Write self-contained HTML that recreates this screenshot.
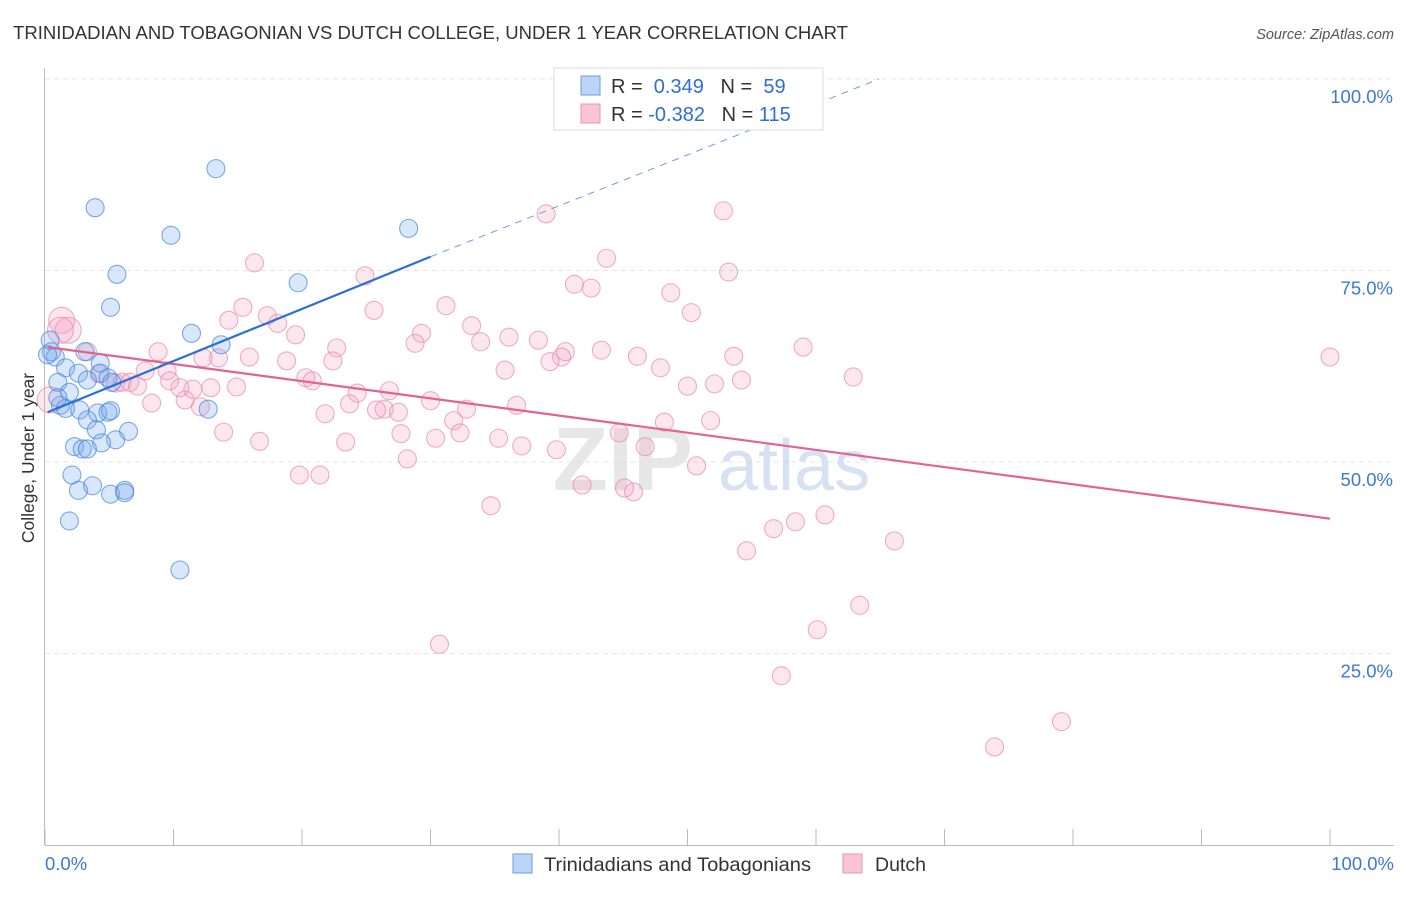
<!DOCTYPE html>
<html><head><meta charset="utf-8"><style>
body{margin:0;background:#fff;font-family:"Liberation Sans",sans-serif;}
svg text{font-family:"Liberation Sans",sans-serif;}
</style></head><body>
<svg id="chart" width="1406" height="892" xmlns="http://www.w3.org/2000/svg">
<text x="13" y="39" font-size="18.6" fill="#333" textLength="835" lengthAdjust="spacingAndGlyphs">TRINIDADIAN AND TOBAGONIAN VS DUTCH COLLEGE, UNDER 1 YEAR CORRELATION CHART</text>
<text x="1394" y="39" font-size="14.5" fill="#555" font-style="italic" text-anchor="end">Source: ZipAtlas.com</text>
<g id="grid"></g>
<g><text x="553" y="490" font-size="90" fill="#ddd" font-weight="bold" opacity="0.7">ZIP</text><text x="718" y="490" font-size="72" fill="#c5d6ee" opacity="0.7">atlas</text></g>
<g id="axes"></g>
<g id="pts"></g>
<g id="trends"></g>
<text transform="translate(34,458) rotate(-90)" font-size="17.5" fill="#333" text-anchor="middle">College, Under 1 year</text>
<g>
<rect x="554" y="68" width="269" height="62" fill="#fff" stroke="#ddd"/>
<rect x="581" y="76" width="19" height="19" fill="#bcd4f5" stroke="#6a9ee0"/>
<rect x="581" y="104" width="19" height="19" fill="#f9c5d5" stroke="#e896b0"/>
<text x="611" y="93" font-size="20" fill="#333">R = <tspan fill="#2e6fd3">&#160;0.349</tspan>&#160;&#160;&#160;N = <tspan fill="#2e6fd3">&#160;59</tspan></text>
<text x="611" y="121" font-size="20" fill="#333">R = <tspan fill="#2e6fd3">-0.382</tspan>&#160;&#160;&#160;N = <tspan fill="#2e6fd3">115</tspan></text>
</g>
<g>
<rect x="513" y="854" width="19" height="19" fill="#bcd4f5" stroke="#6a9ee0"/>
<text x="544" y="871" font-size="19.5" fill="#333" textLength="267" lengthAdjust="spacingAndGlyphs">Trinidadians and Tobagonians</text>
<rect x="843" y="854" width="19" height="19" fill="#f9c5d5" stroke="#e896b0"/>
<text x="875" y="871" font-size="19.5" fill="#333">Dutch</text>
</g>
</svg>
<script>
const yTicks=[25,50,75,100];
const yTickLabels=["25.0%","50.0%","75.0%","100.0%"];
const xTicks=[0,10,20,30,40,50,60,70,80,90,100];
const blueX=[13.3,3.9,9.8,28.3,5.6,19.7,5.1,11.4,13.7,0.4,0.5,0.8,3.1,4.3,1.6,2.6,4.3,3.3,1.0,4.9,1.9,1.2,1.6,2.7,4.1,4.9,5.1,3.3,12.7,4.0,6.5,5.5,4.4,2.3,2.9,3.3,2.1,3.7,2.6,5.1,6.2,6.2,1.9,10.5,0.2,1.0,5.2];
const blueY=[88.3,83.2,79.6,80.5,74.5,73.4,70.2,66.8,65.3,65.9,64.4,63.7,64.4,62.9,62.3,61.6,61.6,60.7,60.4,61.0,59.1,57.4,57.0,56.8,56.4,56.5,56.7,55.5,56.9,54.2,54.0,52.9,52.5,52.0,51.7,51.7,48.3,46.9,46.3,45.8,46.3,46.0,42.3,35.9,64.0,58.4,60.4];
const pinkX=[52.8,39.0,16.3,43.7,53.2,24.9,41.2,42.5,48.7,15.4,31.2,25.6,50.3,17.3,14.3,18.1,33.2,1.3,1.8,19.5,29.3,36.1,38.4,28.8,33.9,59.0,8.8,22.7,3.3,43.3,40.5,40.2,46.1,53.6,15.9,13.5,18.8,12.3,22.4,39.3,100,47.9,35.8,9.5,7.8,4.2,62.9,54.2,20.3,20.8,9.7,6.6,5.5,6.0,50.0,52.1,7.2,14.9,11.5,12.9,10.5,26.8,24.3,10.9,8.3,30.0,23.7,36.7,12.1,26.4,25.8,32.8,27.5,21.8,31.8,48.2,51.8,13.9,27.7,44.7,32.3,30.4,35.3,23.4,16.7,37.1,46.7,39.8,28.2,50.7,19.8,21.4,41.8,45.1,45.8,34.7,60.7,58.4,56.7,66.1,54.6,63.4,60.1,30.7,57.3,79.1,73.9,0.4,1.2];
const pinkY=[82.8,82.4,76.0,76.6,74.8,74.3,73.2,72.7,72.1,70.2,70.4,69.8,69.5,69.1,68.5,68.1,67.8,68.5,67.2,66.6,66.8,66.3,65.9,65.5,65.7,65.0,64.4,64.9,64.4,64.6,64.4,63.7,63.8,63.8,63.7,63.6,63.2,63.6,63.2,63.1,63.7,62.3,62.0,61.9,61.9,61.5,61.1,60.7,61.0,60.6,60.6,60.4,60.3,60.4,59.9,60.2,59.9,59.8,59.5,59.7,59.7,59.3,59.0,58.1,57.7,58.0,57.6,57.4,57.2,56.9,56.8,56.9,56.5,56.3,55.4,55.2,55.4,53.9,53.7,53.8,53.8,53.1,53.1,52.6,52.7,52.1,52.0,51.6,50.4,49.5,48.3,48.3,47.0,46.6,46.1,44.3,43.1,42.2,41.3,39.7,38.4,31.3,28.1,26.2,22.1,16.1,12.8,58.1,67.2];
const blueTrend=[[0.2,56.5],[30,76.8]];
const blueDash=[[30,76.8],[64.9,100]];
const pinkTrend=[[0.2,65.0],[100,42.6]];
const NS="http://www.w3.org/2000/svg";
const sx=v=>45+v*12.85, sy=v=>845-v*7.66;
function mk(tag,attrs,parent){const e=document.createElementNS(NS,tag);for(const k in attrs)e.setAttribute(k,attrs[k]);parent.appendChild(e);return e;}
const grid=document.getElementById('grid'),axes=document.getElementById('axes'),pts=document.getElementById('pts'),tr=document.getElementById('trends');
yTicks.forEach((t,i)=>{
 const l=mk('line',{x1:45,x2:1394,y1:sy(t),y2:sy(t),stroke:'#e6e6e6','stroke-dasharray':'5,4'},grid);
 
 
 const tx=mk('text',{x:1393,y:sy(t)+24,'font-size':18.5,fill:'#3f78d4','text-anchor':'end'},axes);
 tx.textContent=yTickLabels[i];
 
 
});
mk('line',{x1:44.5,x2:44.5,y1:68,y2:845,stroke:'#bbb'},axes);
mk('line',{x1:45,x2:1394,y1:845.5,y2:845.5,stroke:'#bbb'},axes);
xTicks.forEach(t=>{const l=mk('line',{x1:sx(t),x2:sx(t),y1:829,y2:845,stroke:'#bbb'},axes);
 
 });
const x0=mk('text',{x:45,y:870,'font-size':18.5,fill:'#3f78d4'},axes);x0.textContent='0.0%';


const x1=mk('text',{x:1394,y:870,'font-size':18.5,fill:'#3f78d4','text-anchor':'end'},axes);x1.textContent='100.0%';


pinkX.forEach((x,i)=>{const big=x<2;const c=mk('circle',{cx:sx(x),cy:sy(pinkY[i]),r:big?13:9,fill:'rgba(242,160,190,0.25)',stroke:'rgba(232,140,172,0.7)','stroke-width':1.1},pts);
 
 });
blueX.forEach((x,i)=>{const c=mk('circle',{cx:sx(x),cy:sy(blueY[i]),r:9,fill:'rgba(120,168,238,0.28)',stroke:'rgba(70,135,220,0.7)','stroke-width':1.1},pts);
 
 });
function seg(p,color,dash,name){const l=mk('line',{x1:sx(p[0][0]),y1:sy(p[0][1]),x2:sx(p[1][0]),y2:sy(p[1][1]),stroke:color,'stroke-width':dash?1:2.2},tr);
 if(dash)l.setAttribute('stroke-dasharray','7,6');
 
 }
seg(pinkTrend,'#e4628f',false,'dutch-trend-line');
seg(blueTrend,'#2a6fd6',false,'trinidadian-trend-line');
seg(blueDash,'#6a9ee0',true,'trinidadian-trend-extension');
</script>
</body></html>
